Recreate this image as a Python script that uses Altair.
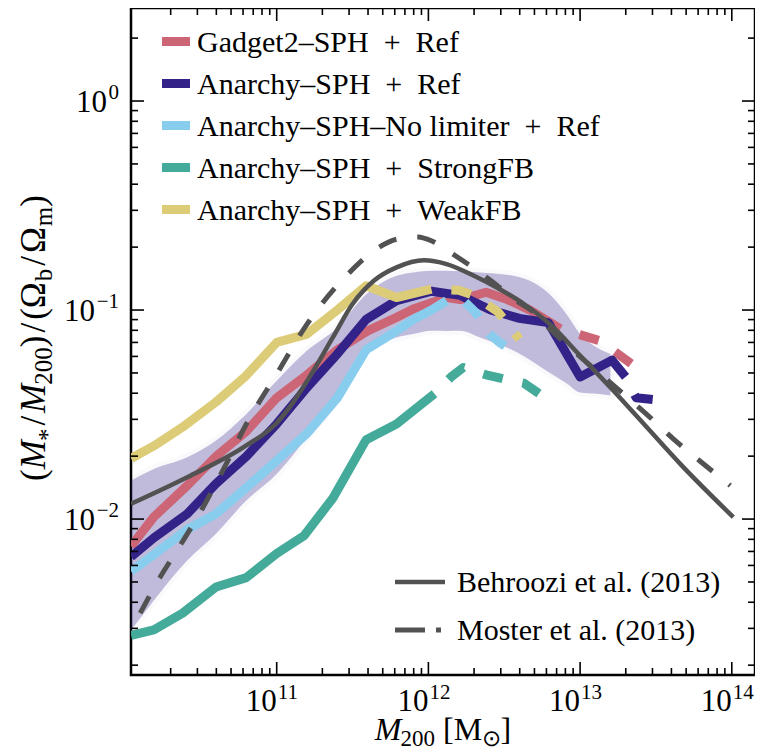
import altair as alt
import pandas as pd
import math

# ---------------- values (log10 units) ----------------
SERIES = ["Gadget2–SPH\u2002+\u2002Ref", "Anarchy–SPH\u2002+\u2002Ref",
          "Anarchy–SPH–No limiter\u2002+\u2002Ref", "Anarchy–SPH\u2002+\u2002StrongFB",
          "Anarchy–SPH\u2002+\u2002WeakFB"]
COLORS = ["#CC6677", "#332288", "#88CCEE", "#44AA99", "#DDCC77"]

G2_SOLID_LOGM = [10.04, 10.19, 10.41, 10.60, 10.80, 11.00, 11.20, 11.40, 11.60, 11.79, 11.90, 12.02, 12.12, 12.21, 12.38, 12.52, 12.67, 12.87]
G2_SOLID_LOGF = [-2.13, -1.99, -1.84, -1.70, -1.58, -1.42, -1.31, -1.19, -1.10, -1.035, -0.995, -0.965, -0.94, -0.95, -0.915, -0.95, -1.00, -1.09]
G2_DASH_LOGM = [12.87, 13.13, 13.34]
G2_DASH_LOGF = [-1.09, -1.147, -1.258]

AN_SOLID_LOGM = [10.04, 10.19, 10.41, 10.60, 10.80, 11.00, 11.20, 11.40, 11.59, 11.79, 12.02, 12.21, 12.41, 12.60, 12.79, 13.00, 13.21, 13.30]
AN_SOLID_LOGF = [-2.18, -2.09, -1.975, -1.83, -1.70, -1.545, -1.37, -1.21, -1.045, -0.955, -0.91, -0.93, -1.00, -1.04, -1.06, -1.32, -1.24, -1.32]
AN_DASH_LOGM = [13.30, 13.37, 13.50]
AN_DASH_LOGF = [-1.32, -1.42, -1.43]

NL_SOLID_LOGM = [10.04, 10.19, 10.41, 10.60, 10.80, 11.00, 11.20, 11.40, 11.59, 11.79, 11.90, 12.02, 12.12]
NL_SOLID_LOGF = [-2.25, -2.17, -2.05, -1.975, -1.85, -1.72, -1.59, -1.42, -1.19, -1.10, -1.045, -1.00, -0.955]
NL_DASH_LOGM = [12.12, 12.22, 12.31, 12.40, 12.47, 12.60]
NL_DASH_LOGF = [-0.955, -0.947, -1.01, -1.115, -1.155, -1.22]

SF_SOLID_LOGM = [10.04, 10.19, 10.38, 10.60, 10.80, 11.00, 11.18, 11.37, 11.59, 11.79, 12.04]
SF_SOLID_LOGF = [-2.556, -2.53, -2.45, -2.325, -2.28, -2.165, -2.08, -1.90, -1.62, -1.545, -1.40]
SF_DASH_LOGM = [12.04, 12.15, 12.23, 12.38, 12.50, 12.63, 12.75]
SF_DASH_LOGF = [-1.40, -1.32, -1.275, -1.31, -1.33, -1.35, -1.41]

WF_SOLID_LOGM = [10.04, 10.19, 10.38, 10.60, 10.79, 11.00, 11.20, 11.40, 11.59, 11.79, 12.02]
WF_SOLID_LOGF = [-1.71, -1.65, -1.56, -1.44, -1.32, -1.155, -1.115, -1.00, -0.884, -0.94, -0.90]
WF_DASH_LOGM = [12.02, 12.20, 12.30, 12.46, 12.60]
WF_DASH_LOGF = [-0.90, -0.905, -0.93, -1.01, -1.14]

BAND_LOGM = [10.04, 10.19, 10.41, 10.60, 10.80, 11.00, 11.20, 11.40, 11.59, 11.79, 11.90, 12.02, 12.12, 12.21, 12.34, 12.56, 12.71, 12.82, 12.91, 13.00, 13.11, 13.20]
BAND_HI = [-1.816, -1.76, -1.704, -1.624, -1.497, -1.338, -1.194, -1.083, -0.924, -0.836, -0.82, -0.812, -0.812, -0.815, -0.82, -0.836, -0.876, -0.94, -1.019, -1.115, -1.179, -1.21]
BAND_LO = [-2.532, -2.389, -2.198, -2.07, -1.911, -1.784, -1.609, -1.418, -1.194, -1.131, -1.115, -1.099, -1.10, -1.099, -1.131, -1.194, -1.258, -1.31, -1.35, -1.394, -1.40, -1.409]

BEH_LOGM = [10.04, 10.41, 10.80, 11.00, 11.10, 11.20, 11.37, 11.50, 11.64, 11.79, 11.97, 12.12, 12.30, 12.45, 12.63, 12.80, 13.00, 13.22, 13.44, 13.66, 14.01]
BEH_LOGF = [-1.927, -1.80, -1.648, -1.54, -1.45, -1.34, -1.131, -0.971, -0.86, -0.796, -0.762, -0.78, -0.836, -0.892, -0.971, -1.067, -1.218, -1.386, -1.561, -1.736, -1.991]

MOS_LOGM = [10.10, 10.23, 10.36, 10.49, 10.65, 10.80, 11.00, 11.20, 11.48, 11.64, 11.79, 11.93, 12.03, 12.16, 12.26, 12.42, 12.58, 12.68, 12.80, 12.98, 13.23, 13.43, 13.62, 13.82, 13.99]
MOS_LOGF = [-2.45, -2.28, -2.13, -1.975, -1.76, -1.545, -1.306, -1.067, -0.82, -0.717, -0.661, -0.65, -0.672, -0.732, -0.78, -0.864, -0.956, -1.003, -1.09, -1.21, -1.366, -1.493, -1.62, -1.74, -1.84]

OBS_NAMES = ["Behroozi et al. (2013)", "Moster et al. (2013)"]
X_TICK_EXP = [11, 12, 13, 14]
Y_TICK_EXP = [0, -1, -2]
X_TITLE = [("M", "it"), ("200", "sub"), ("[", "rm"), ("M", "rm"), ("⊙", "sub"), ("]", "rm")]
Y_TITLE = [("(", "rm"), ("M", "it"), ("*", "ast"), ("/", "rm"), ("M", "it"), ("200", "sub"),
           (")", "rm"), ("/", "rm"), ("(", "rm"), ("Ω", "rm"), ("b", "sub"), ("/", "rm"),
           ("Ω", "rm"), ("m", "sub"), (")", "rm")]

# ---------------- layout ----------------
FONT = "Liberation Serif"
W, H = 624, 667
LOGX = (10.0395, 14.153)
LOGY = (-2.746, 0.445)
GRAY = "#525252"

xs = alt.Scale(type="log", domain=[10 ** LOGX[0], 10 ** LOGX[1]], nice=False)
ys = alt.Scale(type="log", domain=[10 ** LOGY[0], 10 ** LOGY[1]], nice=False)


def curve(lx, ly):
    return pd.DataFrame({"order": list(range(len(lx))),
                         "M": [10 ** v for v in lx], "f": [10 ** v for v in ly]})


def X(field="M"):
    return alt.X(f"{field}:Q", scale=xs, axis=None)


def Y(field="f"):
    return alt.Y(f"{field}:Q", scale=ys, axis=None)


layers = []

# shaded band
band = pd.DataFrame({"M": [10 ** v for v in BAND_LOGM],
                     "lo": [10 ** v for v in BAND_LO], "hi": [10 ** v for v in BAND_HI]})
layers.append(alt.Chart(band).mark_area(color="#332288", opacity=0.3, interpolate="monotone",
                                        stroke="#332288", strokeOpacity=0.08, strokeWidth=8, clip=True)
              .encode(x=X(), y=alt.Y("lo:Q", scale=ys, axis=None), y2="hi:Q"))

# simulation curves (solid where well sampled, dashed beyond)
SIM = [(G2_SOLID_LOGM, G2_SOLID_LOGF, G2_DASH_LOGM, G2_DASH_LOGF),
       (AN_SOLID_LOGM, AN_SOLID_LOGF, AN_DASH_LOGM, AN_DASH_LOGF),
       (NL_SOLID_LOGM, NL_SOLID_LOGF, NL_DASH_LOGM, NL_DASH_LOGF),
       (SF_SOLID_LOGM, SF_SOLID_LOGF, SF_DASH_LOGM, SF_DASH_LOGF),
       (WF_SOLID_LOGM, WF_SOLID_LOGF, WF_DASH_LOGM, WF_DASH_LOGF)]
for col, (sx, sy, dx_, dy_) in zip(COLORS, SIM):
    layers.append(alt.Chart(curve(sx, sy)).mark_line(color=col, strokeWidth=9, strokeJoin="round",
                                                      strokeCap="butt", clip=True)
                  .encode(x=X(), y=Y(), order="order:Q"))
    layers.append(alt.Chart(curve(dx_, dy_)).mark_line(color=col, strokeWidth=9, strokeJoin="round",
                                                        strokeCap="butt", strokeDash=[20, 20],
                                                        strokeDashOffset=20, clip=True)
                  .encode(x=X(), y=Y(), order="order:Q"))

# observational relations
layers.append(alt.Chart(curve(BEH_LOGM, BEH_LOGF)).mark_line(color=GRAY, strokeWidth=4.5,
                                                             interpolate="monotone", clip=True)
              .encode(x=X(), y=Y(), order="order:Q"))
layers.append(alt.Chart(curve(MOS_LOGM, MOS_LOGF)).mark_line(color=GRAY, strokeWidth=5, strokeDash=[19, 21],
                                                             interpolate="monotone", clip=True)
              .encode(x=X(), y=Y(), order="order:Q"))

# ticks (inward, all four sides)
xmaj = [10.0 ** e for e in X_TICK_EXP]
xmin = [m * 10.0 ** d for d in range(10, 15) for m in range(2, 10)
        if LOGX[0] < d + math.log10(m) < LOGX[1]]
ymaj = [10.0 ** e for e in Y_TICK_EXP]
ymin = [m * 10.0 ** d for d in range(-3, 1) for m in range(2, 10)
        if LOGY[0] < d + math.log10(m) < LOGY[1]]
for vals, ln in ((xmaj, 13), (xmin, 7)):
    df = pd.DataFrame({"v": vals})
    base = alt.Chart(df).mark_rule(color="black", strokeWidth=1.6)
    layers.append(base.encode(x=X("v"), y=alt.value(H), y2=alt.value(H - ln)))
    layers.append(base.encode(x=X("v"), y=alt.value(0), y2=alt.value(ln)))
for vals, ln in ((ymaj, 13), (ymin, 7)):
    df = pd.DataFrame({"v": vals})
    base = alt.Chart(df).mark_rule(color="black", strokeWidth=1.6)
    layers.append(base.encode(y=Y("v"), x=alt.value(0), x2=alt.value(ln)))
    layers.append(base.encode(y=Y("v"), x=alt.value(W), x2=alt.value(W - ln)))

# tick labels 10^n
xl = pd.DataFrame({"v": xmaj, "base": ["10"] * len(xmaj), "exp": [str(e) for e in X_TICK_EXP]})
layers.append(alt.Chart(xl).mark_text(font=FONT, fontSize=31, align="right", baseline="alphabetic")
              .encode(x=X("v"), y=alt.value(703), text="base:N"))
layers.append(alt.Chart(xl).mark_text(font=FONT, fontSize=21, align="left", baseline="alphabetic", dx=1)
              .encode(x=X("v"), y=alt.value(691), text="exp:N"))
yl = pd.DataFrame({"v": ymaj, "base": ["10"] * len(ymaj),
                   "exp": [str(e).replace("-", "\u2212") for e in Y_TICK_EXP]})
layers.append(alt.Chart(yl).mark_text(font=FONT, fontSize=21, align="right", baseline="alphabetic", dy=-2)
              .encode(y=Y("v"), x=alt.value(-12), text="exp:N"))
layers.append(alt.Chart(yl).transform_calculate(bx="-13 - (length(datum.exp) > 1 ? 23 : 11)")
              .mark_text(font=FONT, fontSize=31, align="right", baseline="alphabetic", dy=10.5)
              .encode(y=Y("v"), x=alt.X("bx:Q", scale=None), text="base:N"))

# axis titles built from pieces (italic / subscripts)
CW = {"(": .333, ")": .333, "/": .278, "[": .333, "]": .333, "Ω": .768, "b": .5, "m": .778,
      "*": .5, "0": .5, "2": .5, "M": .889, "⊙": .80}


def build(pieces, fm, fs, shift_sub, shift_ast, pad_slash, pad_after_sub):
    rows, pos = [], 0.0
    for t, kind in pieces:
        size = fm if kind in ("rm", "it") else fs
        shift = {"rm": 0, "it": 0, "sub": shift_sub, "ast": shift_ast}[kind]
        if t == "/":
            pos += pad_slash
        rows.append({"t": t, "it": kind == "it", "fs": size, "shift": shift, "off": pos})
        w = (.833 if kind == "it" else sum(CW[c] for c in t)) * size
        pos += w + (pad_slash if t == "/" else 0) + (-1 if kind == "it" else 0)
        if t == "200":
            pos += pad_after_sub
    return pd.DataFrame(rows), pos


yt, ylen = build(Y_TITLE, 35, 25, 7, 11, 3, 0)
yc, ybase = 330, -86
yt["px"] = ybase + yt["shift"]
yt["py"] = yc + ylen / 2 - yt["off"]
xt, xlen = build(X_TITLE, 32, 23, 6, 0, 0, 8)
xc, xbase = 312, 732
xt["px"] = xc - xlen / 2 + xt["off"]
xt["py"] = xbase + xt["shift"]
for df, ang in ((yt, 270), (xt, 0)):
    for italic in (False, True):
        sub = df[df["it"] == italic]
        mk = dict(font=FONT, align="left", baseline="alphabetic", color="black")
        if ang:
            mk["angle"] = ang
        if italic:
            mk["fontStyle"] = "italic"
        layers.append(alt.Chart(sub).mark_text(**mk).encode(
            x=alt.X("px:Q", scale=None), y=alt.Y("py:Q", scale=None),
            size=alt.Size("fs:Q", scale=None, legend=None), text="t:N"))

# legend (simulations)
leg = pd.DataFrame({"name": SERIES, "col": COLORS, "i": list(range(len(SERIES)))})
leg_base = alt.Chart(leg).transform_calculate(ly="33.5 + 42 * datum.i", ty="43.5 + 42 * datum.i")
layers.append(leg_base.mark_rule(strokeWidth=9).encode(
    x=alt.value(31), x2=alt.value(59), y=alt.Y("ly:Q", scale=None),
    color=alt.Color("col:N", scale=None, legend=None)))
layers.append(leg_base.mark_text(font=FONT, fontSize=30, align="left", baseline="alphabetic").encode(
    x=alt.value(66), y=alt.Y("ty:Q", scale=None), text="name:N"))

# legend (observations)
obs = pd.DataFrame({"name": OBS_NAMES, "i": [0, 1]})
obs_base = alt.Chart(obs).transform_calculate(ly="574 + 48 * datum.i", ty="584 + 48 * datum.i")
layers.append(obs_base.mark_text(font=FONT, fontSize=30, align="left", baseline="alphabetic").encode(
    x=alt.value(326), y=alt.Y("ty:Q", scale=None), text="name:N"))
layers.append(obs_base.transform_filter("datum.i == 0").mark_rule(color=GRAY, strokeWidth=4.5).encode(
    x=alt.value(264), x2=alt.value(314), y=alt.Y("ly:Q", scale=None)))
layers.append(obs_base.transform_filter("datum.i == 1").mark_rule(color=GRAY, strokeWidth=5).encode(
    x=alt.value(264), x2=alt.value(294), y=alt.Y("ly:Q", scale=None)))
layers.append(obs_base.transform_filter("datum.i == 1").mark_rule(color=GRAY, strokeWidth=5).encode(
    x=alt.value(305), x2=alt.value(310), y=alt.Y("ly:Q", scale=None)))

chart = alt.layer(*layers).properties(
    width=W, height=H,
    padding={"left": 123, "top": 0, "right": 0, "bottom": 77},
    autosize=alt.AutoSizeParams(type="none"),
    background="white",
).configure_view(stroke="black", strokeWidth=2.5)

chart.save("out.html", embed_options={"renderer": "svg", "actions": False})
